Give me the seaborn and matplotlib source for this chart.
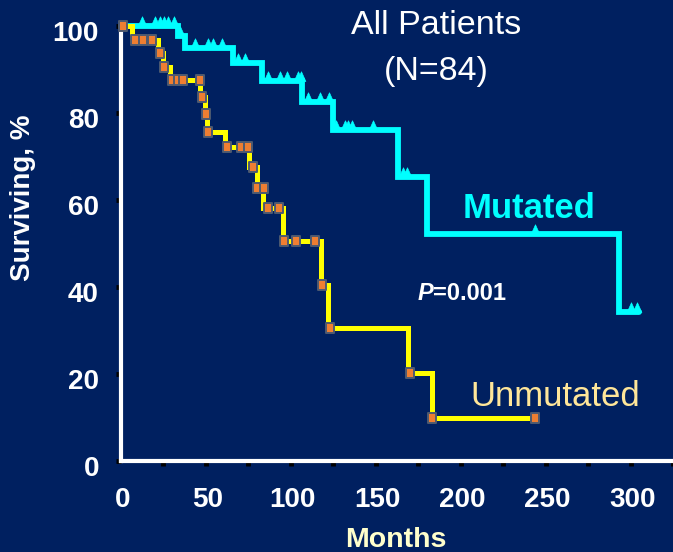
import numpy as np
import pandas as pd
import matplotlib
matplotlib.use("Agg")
import matplotlib.pyplot as plt
import matplotlib.transforms as mtransforms
from matplotlib.path import Path
import seaborn as sns

# Kaplan-Meier survival steps (months, % surviving)
mutated_months = [0, 34, 38, 66, 83, 107, 125, 163, 180, 293, 305]
mutated_surv = [100, 97.6, 95.0, 91.6, 87.3, 82.5, 76.2, 65.2, 52.2, 34.2, 34.2]
# censored observations, mutated group
mutated_cens_months = [12.6, 20.3, 23.2, 25.6, 28, 31.5, 35,
                       44, 51.5, 54.4, 59.7, 69, 73,
                       86.8, 93.8, 98, 104.4, 106,
                       110, 117.4, 122.6,
                       127, 132, 134, 136, 148.5,
                       166, 168.5, 244, 300, 304]
mutated_cens_surv = [100, 100, 100, 100, 100, 100, 97.6,
                     95.0, 95.0, 95.0, 95.0, 91.6, 91.6,
                     87.3, 87.3, 87.3, 87.3, 87.3,
                     82.5, 82.5, 82.5,
                     76.2, 76.2, 76.2, 76.2, 76.2,
                     65.2, 65.2, 52.2, 34.2, 34.2]

unmutated_months = [0, 7, 22, 25, 29, 47, 49.5, 51, 61.5, 75.5, 80, 84,
                    95.5, 118, 122, 169, 183, 244]
unmutated_surv = [100, 96.8, 93.8, 90.6, 87.6, 83.7, 79.8, 75.7, 72.2, 67.6,
                  62.8, 58.2, 50.6, 40.5, 30.6, 20.2, 9.9, 9.9]
# marked observations, unmutated group
unmutated_mark_months = [1.5, 8.5, 13, 18.5, 23, 25.6, 30, 34, 37, 47, 48, 50,
                         51.5, 62.6, 71, 75, 78, 80.5, 84.5, 87, 93, 96, 103,
                         114.4, 118.5, 123, 170, 183, 244]
unmutated_mark_surv = [100, 96.8, 96.8, 96.8, 93.8, 90.6, 87.6, 87.6, 87.6,
                       87.6, 83.7, 79.8, 75.7, 72.2, 72.2, 72.2, 67.6, 62.8,
                       62.8, 58.2, 58.2, 50.6, 50.6, 50.6, 40.5, 30.6, 20.2,
                       9.9, 9.9]

x_major = [0, 50, 100, 150, 200, 250, 300]
x_minor = [25, 75, 125, 175, 225, 275, 325]
y_ticks = [0, 20, 40, 60, 80, 100]

BG = "#002060"
CYAN = "#00FFFF"
YELLOW = "#FFFF00"
ORANGE = "#EE7E32"

sns.set_style("ticks")
plt.rcParams["font.family"] = ["Liberation Sans", "DejaVu Sans"]

fig = plt.figure(figsize=(6.73, 5.52), dpi=100, facecolor=BG)
ax = fig.add_axes([120.5 / 673, 1 - 461 / 552, 1 - 120.5 / 673, (461 - 26) / 552])
ax.set_facecolor(BG)

mut = pd.DataFrame({"month": mutated_months, "surv": mutated_surv})
unm = pd.DataFrame({"month": unmutated_months, "surv": unmutated_surv})
mut_c = pd.DataFrame({"month": mutated_cens_months, "surv": mutated_cens_surv})
unm_c = pd.DataFrame({"month": unmutated_mark_months, "surv": unmutated_mark_surv})

# spike marker with its base on the curve
spike = Path([(-0.45, 0), (0.45, 0), (0, 1.0), (-0.45, 0)],
             [Path.MOVETO, Path.LINETO, Path.LINETO, Path.CLOSEPOLY])
# upright rectangle marker
rect = Path([(-0.8, -1), (0.8, -1), (0.8, 1), (-0.8, 1), (-0.8, -1)],
            [Path.MOVETO, Path.LINETO, Path.LINETO, Path.LINETO, Path.CLOSEPOLY])

sns.lineplot(data=mut, x="month", y="surv", ax=ax, estimator=None, sort=False,
             drawstyle="steps-post", color=CYAN, linewidth=4.2,
             solid_joinstyle="miter", clip_on=False, zorder=3)
sns.scatterplot(data=mut_c, x="month", y="surv", ax=ax, marker=spike, s=14 ** 2,
                color=CYAN, edgecolor=CYAN, linewidth=0.5, clip_on=False, zorder=3)

sns.lineplot(data=unm, x="month", y="surv", ax=ax, estimator=None, sort=False,
             drawstyle="steps-post", color=YELLOW, linewidth=3.6,
             solid_joinstyle="miter", clip_on=False, zorder=4)
sns.scatterplot(data=unm_c, x="month", y="surv", ax=ax, marker=rect, s=7.8 ** 2,
                color=ORANGE, edgecolor="#4E5A70", linewidth=1.4,
                clip_on=False, zorder=5)

ax.set_xlim(0, 325)
ax.set_ylim(0, 100)
ax.set_xlabel("")
ax.set_ylabel("")

for side in ("top", "right"):
    ax.spines[side].set_visible(False)
for side in ("left", "bottom"):
    ax.spines[side].set_color("white")
    ax.spines[side].set_linewidth(3)
    ax.spines[side].set_zorder(2)

ax.set_xticks(x_major)
ax.set_xticks(x_minor, minor=True)
ax.set_xticklabels([str(v) for v in x_major])
ax.set_yticks(y_ticks)
ax.set_yticklabels([str(v) for v in y_ticks])

ax.tick_params(axis="both", which="both", direction="out", length=3.5,
               width=3.5, color="black", labelcolor="white", labelsize=20)
ax.tick_params(axis="x", which="major", pad=15)
ax.tick_params(axis="y", which="major", pad=12)
for lab in ax.get_xticklabels() + ax.get_yticklabels():
    lab.set_fontweight("bold")

# white caps at the ends of the axes
ax.xaxis.get_major_ticks()[0].tick1line.set_visible(False)
ax.yaxis.get_major_ticks()[0].tick1line.set_color("white")
ax.yaxis.get_major_ticks()[-1].tick1line.set_color("white")

# y tick labels sit slightly below their ticks; x labels a touch to the right
yshift = mtransforms.ScaledTranslation(0, -5 / 100, fig.dpi_scale_trans)
for lab in ax.get_yticklabels():
    lab.set_transform(lab.get_transform() + yshift)
xshift = mtransforms.ScaledTranslation(2 / 100, 0, fig.dpi_scale_trans)
for lab in ax.get_xticklabels():
    lab.set_transform(lab.get_transform() + xshift)

fig.text(23 / 673, 1 - 198 / 552, "Surviving, %", rotation=90, ha="center",
         va="center", color="white", fontsize=20, fontweight="bold")
fig.text(396 / 673, 1 - 540 / 552, "Months", ha="center", va="center",
         color="#FFFFCC", fontsize=20.5, fontweight="bold")

ax.text(185.6, 100.0, "All Patients", ha="center", va="center",
        color="white", fontsize=24.5, clip_on=False)
ax.text(185.6, 89.6, "(N=84)", ha="center", va="center",
        color="white", fontsize=24.5, clip_on=False)
ax.text(240.3, 58.0, "Mutated", ha="center", va="center",
        color=CYAN, fontsize=25, fontweight="bold")
ax.text(184.0, 38.6, "P", ha="right", va="center", color="white",
        fontsize=17, fontweight="bold", fontstyle="italic")
ax.text(184.0, 38.6, "=0.001", ha="left", va="center", color="white",
        fontsize=17, fontweight="bold")
ax.text(255.6, 14.8, "Unmutated", ha="center", va="center",
        color="#FFE699", fontsize=25)

fig.savefig("out.png", dpi=100, facecolor=BG)
